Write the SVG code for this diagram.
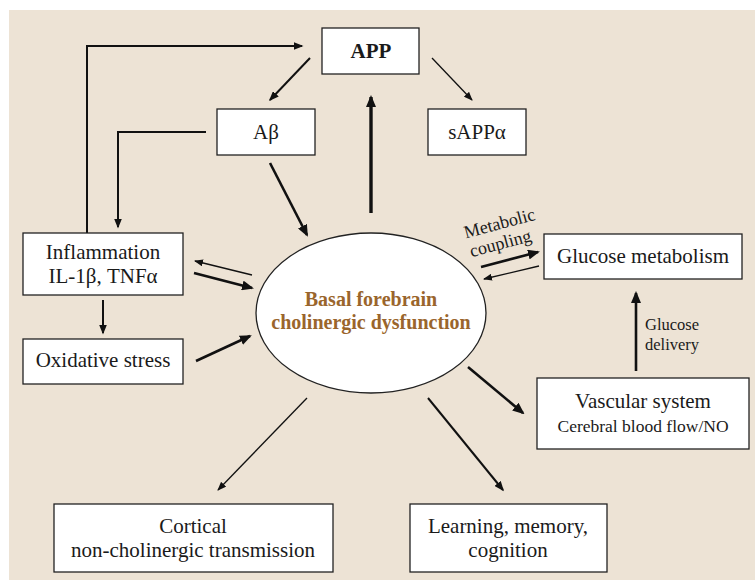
<svg xmlns="http://www.w3.org/2000/svg" width="755" height="580" viewBox="0 0 755 580">
<defs>
<style>
.box{fill:#fff;stroke:#222;stroke-width:1.3}
.t{font-family:"Liberation Serif","Times New Roman",serif;font-size:21px;fill:#1a1a1a;text-anchor:middle}
.s{font-size:17.5px}
.g{font-size:16.5px;text-anchor:start}
.b{font-weight:bold}
.br{fill:#9a652c;font-weight:bold;font-size:20px}
.ln{fill:none;stroke:#111;stroke-linecap:butt}
.w1{stroke-width:1.3;marker-end:url(#ah-s)}
.w2{stroke-width:2;marker-end:url(#ah-m)}
.w3{stroke-width:2.6;marker-end:url(#ah-l)}
.w4{stroke-width:3.4;marker-end:url(#ah-l)}
</style>
<marker id="ah-s" markerUnits="userSpaceOnUse" markerWidth="9" markerHeight="7" refX="8" refY="3.5" orient="auto"><path d="M0,0 L9,3.5 L0,7 z" fill="#111"/></marker>
<marker id="ah-m" markerUnits="userSpaceOnUse" markerWidth="10" markerHeight="8" refX="8.5" refY="4" orient="auto"><path d="M0,0 L10,4 L0,8 z" fill="#111"/></marker>
<marker id="ah-l" markerUnits="userSpaceOnUse" markerWidth="12" markerHeight="10" refX="10" refY="5" orient="auto"><path d="M0,0 L12,5 L0,10 z" fill="#111"/></marker>
</defs>
<rect x="9" y="10" width="746" height="570" fill="#ede3d5"/>

<g id="connectors">
<path class="ln w2" d="M87,233 V46 H302"/>
<path class="ln w2" d="M206,132 H118 V227"/>
<line class="ln w2" x1="310" y1="58" x2="270" y2="100"/>
<line class="ln w1" x1="432" y1="58" x2="472" y2="100"/>
<line class="ln w4" x1="371" y1="213" x2="371" y2="97"/>
<line class="ln w3" x1="270" y1="163" x2="307" y2="235"/>
<line class="ln w1" x1="252" y1="275" x2="195" y2="261"/>
<line class="ln w3" x1="194" y1="273" x2="252" y2="288"/>
<line class="ln w2" x1="103" y1="300" x2="103" y2="333"/>
<line class="ln w3" x1="196" y1="361" x2="250" y2="336"/>
<line class="ln w3" x1="481" y1="267" x2="538" y2="252"/>
<line class="ln w1" x1="539" y1="266" x2="484" y2="279"/>
<line class="ln w3" x1="636" y1="371" x2="636" y2="293"/>
<line class="ln w3" x1="468" y1="367" x2="523" y2="413"/>
<line class="ln w1" x1="307" y1="398" x2="218" y2="490"/>
<line class="ln w2" x1="428" y1="398" x2="503" y2="490"/>
<text class="t" style="font-size:18px" transform="rotate(-15 501 229)" x="501" y="229">Metabolic</text>
<text class="t" style="font-size:18px" transform="rotate(-15 502 249)" x="502" y="249">coupling</text>
<text class="t g" x="645" y="330">Glucose</text>
<text class="t g" x="645" y="350">delivery</text>
</g>

<g id="app">
<rect class="box" x="322" y="28" width="97" height="46"/>
<text class="t b" x="371" y="58">APP</text>
</g>
<g id="abeta">
<rect class="box" x="217" y="109" width="98" height="46"/>
<text class="t" x="266" y="139">Aβ</text>
</g>
<g id="sappa">
<rect class="box" x="428" y="109" width="98" height="46"/>
<text class="t" x="477" y="139">sAPPα</text>
</g>
<g id="inflammation">
<rect class="box" x="23" y="233" width="160" height="62"/>
<text class="t" x="103" y="259">Inflammation</text>
<text class="t" x="103" y="283">IL-1β, TNFα</text>
</g>
<g id="oxidative">
<rect class="box" x="23" y="339" width="160" height="45"/>
<text class="t" x="103" y="367">Oxidative stress</text>
</g>
<g id="basal">
<ellipse cx="371" cy="313" rx="115" ry="80" fill="#fff" stroke="#222" stroke-width="1.3"/>
<text class="t br" x="371" y="306">Basal forebrain</text>
<text class="t br" x="371" y="329">cholinergic dysfunction</text>
</g>
<g id="glucose">
<rect class="box" x="544" y="234" width="198" height="45"/>
<text class="t" x="643" y="263">Glucose metabolism</text>
</g>
<g id="vascular">
<rect class="box" x="537" y="378" width="212" height="71"/>
<text class="t" x="643" y="408">Vascular system</text>
<text class="t s" x="643" y="432">Cerebral blood flow/NO</text>
</g>
<g id="cortical">
<rect class="box" x="54" y="504" width="279" height="68"/>
<text class="t" x="193" y="533">Cortical</text>
<text class="t" x="193" y="557">non-cholinergic transmission</text>
</g>
<g id="learning">
<rect class="box" x="410" y="504" width="197" height="68"/>
<text class="t" x="508" y="533">Learning, memory,</text>
<text class="t" x="508" y="557">cognition</text>
</g>
</svg>
